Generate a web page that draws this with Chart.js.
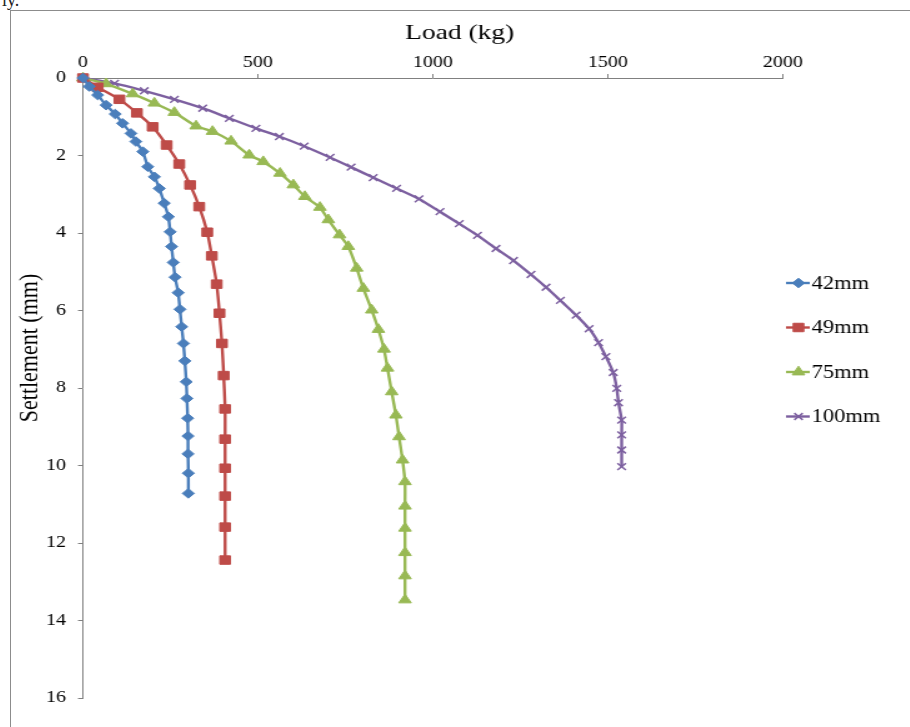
<!DOCTYPE html>
<html>
<head>
<meta charset="utf-8">
<script src="https://cdn.jsdelivr.net/npm/chart.js@4.4.1/dist/chart.umd.min.js"></script>
<style>
html,body{margin:0;padding:0;background:#fff;overflow:hidden;}
body{width:910px;height:727px;position:relative;font-family:"Liberation Serif",serif;}
#note{position:absolute;left:2px;top:-10px;font-size:18px;color:#222;}
#frame{position:absolute;left:10px;top:10px;width:920px;height:730px;border:1px solid #8c8c8c;box-sizing:border-box;}
/* the source figure is stretched sideways, so the chart is drawn narrow and scaled */
#wrap{position:absolute;left:11px;top:11px;width:719px;height:716px;transform:scaleX(1.25);transform-origin:0 0;}
</style>
</head>
<body>
<div id="note">ly.</div>
<div id="frame"></div>
<div id="wrap"><canvas id="loadChart"></canvas></div>
<script>

// ======================================
// Data (load in kg, settlement in mm)
// ======================================

const seriesNames = ["42mm", "49mm", "75mm", "100mm"];

const load42 = [0, 18, 42, 66, 92, 113, 137, 151, 171, 185, 204, 218, 232, 244, 249, 253, 258, 263, 272, 277, 282, 287, 291, 295, 297, 299, 300, 300, 301, 301];
const settle42 = [0, 0.22, 0.44, 0.70, 0.93, 1.17, 1.43, 1.64, 1.90, 2.29, 2.55, 2.85, 3.23, 3.58, 3.97, 4.35, 4.76, 5.14, 5.54, 5.97, 6.42, 6.85, 7.30, 7.84, 8.27, 8.78, 9.24, 9.70, 10.20, 10.72];

const load49 = [0, 42, 104, 154, 199, 239, 275, 306, 332, 355, 368, 382, 390, 397, 402, 406, 406, 406, 406, 406, 406];
const settle49 = [0, 0.24, 0.55, 0.90, 1.26, 1.73, 2.22, 2.76, 3.32, 3.98, 4.59, 5.32, 6.07, 6.85, 7.68, 8.54, 9.32, 10.07, 10.79, 11.59, 12.44];

const load75 = [0, 66, 142, 204, 261, 323, 370, 423, 475, 515, 563, 601, 634, 677, 701, 733, 758, 782, 801, 825, 844, 860, 870, 882, 894, 903, 913, 920, 920, 920, 920, 920, 920];
const settle75 = [0, 0.15, 0.41, 0.65, 0.89, 1.24, 1.38, 1.63, 1.99, 2.16, 2.46, 2.76, 3.06, 3.34, 3.66, 4.05, 4.35, 4.91, 5.43, 5.99, 6.49, 7.00, 7.49, 8.10, 8.70, 9.26, 9.86, 10.42, 11.05, 11.62, 12.25, 12.85, 13.47];

const load100 = [0, 90, 175, 261, 342, 418, 494, 561, 632, 706, 766, 829, 896, 960, 1020, 1075, 1127, 1180, 1230, 1280, 1323, 1364, 1409, 1446, 1473, 1494, 1515, 1525, 1530, 1539, 1539, 1539, 1539];
const settle100 = [0, 0.14, 0.33, 0.55, 0.78, 1.04, 1.30, 1.51, 1.76, 2.05, 2.30, 2.57, 2.85, 3.12, 3.45, 3.76, 4.06, 4.40, 4.71, 5.07, 5.40, 5.74, 6.12, 6.47, 6.83, 7.19, 7.60, 8.01, 8.38, 8.83, 9.21, 9.60, 10.03];

const loadTicks = [0, 500, 1000, 1500, 2000];
const settleTicks = [0, 2, 4, 6, 8, 10, 12, 14, 16];

// ======================================
// Helpers
// ======================================

function toPoints(xs, ys){

    return xs.map((x, i) => ({ x: x, y: ys[i] }));

}

function makeSet(name, xs, ys, color, style, radius, bw){

    return {
        label: name,
        data: toPoints(xs, ys),
        borderColor: color,
        backgroundColor: color,
        borderWidth: 2.4,
        pointStyle: style,
        pointRadius: radius,
        pointHoverRadius: radius,
        pointBackgroundColor: color,
        pointBorderColor: color,
        pointBorderWidth: bw,
        tension: 0.2,
        clip: false
    };

}

const FONT = "'Liberation Serif', 'Times New Roman', serif";

// ======================================
// Titles + side legend
// ======================================

const sideDecor = {

    id: "sideDecor",

    afterDraw(chart){

        const ctx = chart.ctx;
        const drawPoint = Chart.helpers && Chart.helpers.drawPoint;

        ctx.save();
        ctx.fillStyle = "#000";
        ctx.textAlign = "center";
        ctx.textBaseline = "middle";

        // x axis title
        ctx.font = "22px " + FONT;
        ctx.fillText("Load (kg)", 359, 22);

        // y axis title
        ctx.translate(15.5, 337);
        ctx.rotate(-Math.PI / 2);
        ctx.font = "22px " + FONT;
        ctx.fillText("Settlement (mm)", 0, 0);

        ctx.restore();

        // legend
        chart.data.datasets.forEach((ds, i) => {

            const y = 272 + i * 44.5;

            ctx.save();

            ctx.strokeStyle = ds.borderColor;
            ctx.lineWidth = 2.4;
            ctx.beginPath();
            ctx.moveTo(620, y);
            ctx.lineTo(639, y);
            ctx.stroke();

            if(drawPoint){
                ctx.fillStyle = ds.pointBackgroundColor;
                ctx.strokeStyle = ds.pointBorderColor;
                ctx.lineWidth = ds.pointBorderWidth;
                drawPoint(ctx, {
                    pointStyle: ds.pointStyle,
                    radius: ds.pointRadius,
                    rotation: 0,
                    borderWidth: ds.pointBorderWidth
                }, 630, y);
            }

            ctx.fillStyle = "#000";
            ctx.font = "18px " + FONT;
            ctx.textAlign = "left";
            ctx.textBaseline = "middle";
            ctx.fillText(ds.label, 640.5, y + 1);

            ctx.restore();

        });

    }

};

// ======================================
// Chart
// ======================================

const axisColor = "#808080";

new Chart(document.getElementById("loadChart"), {

    type: "line",

    data: {
        datasets: [
            makeSet(seriesNames[0], load42, settle42, "#4A7EBB", "rectRot", 4.8, 1),
            makeSet(seriesNames[1], load49, settle49, "#BE4B48", "rect", 6, 1),
            makeSet(seriesNames[2], load75, settle75, "#98B954", "triangle", 5.8, 1),
            makeSet(seriesNames[3], load100, settle100, "#7D60A0", "crossRot", 4.8, 1.5)
        ]
    },

    options: {

        responsive: true,
        maintainAspectRatio: false,
        animation: false,

        layout: {
            padding: { left: 0, right: 101.4, top: 0, bottom: 29 }
        },

        plugins: {
            legend: { display: false },
            tooltip: { enabled: false }
        },

        scales: {

            x: {
                type: "linear",
                position: "top",
                min: 0,
                max: 2000,
                afterBuildTicks(scale){
                    scale.ticks = loadTicks.map(v => ({ value: v }));
                },
                afterFit(scale){
                    scale.height = 67;
                },
                ticks: {
                    color: "#000",
                    font: { family: FONT, size: 16 },
                    padding: 2,
                    callback: v => String(v)
                },
                grid: {
                    drawOnChartArea: false,
                    drawTicks: true,
                    tickLength: 4,
                    color: axisColor
                },
                border: { color: axisColor, width: 1 }
            },

            y: {
                type: "linear",
                reverse: true,
                min: 0,
                max: 16,
                afterBuildTicks(scale){
                    scale.ticks = settleTicks.map(v => ({ value: v }));
                },
                afterFit(scale){
                    scale.width = 57.6;
                },
                ticks: {
                    color: "#000",
                    font: { family: FONT, size: 16 },
                    padding: 9.6,
                    callback: v => String(v)
                },
                grid: {
                    drawOnChartArea: false,
                    drawTicks: true,
                    tickLength: 4,
                    color: axisColor
                },
                border: { color: axisColor, width: 1 }
            }

        }

    },

    plugins: [sideDecor]

});

</script>
</body>
</html>
